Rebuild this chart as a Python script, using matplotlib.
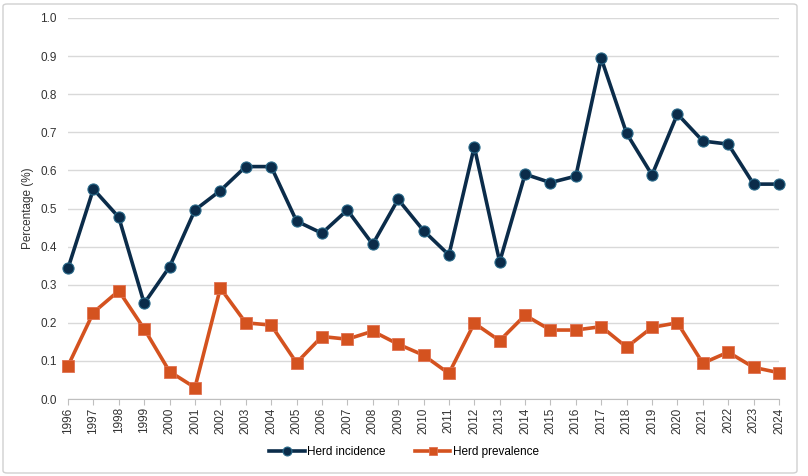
import matplotlib.pyplot as plt
from matplotlib.patches import FancyBboxPatch

plt.rcParams['font.family'] = ['Liberation Sans', 'DejaVu Sans']

years = list(range(1996, 2025))
herdIncidence = [0.343, 0.551, 0.477, 0.251, 0.347, 0.496, 0.547, 0.610, 0.610,
                 0.467, 0.435, 0.496, 0.406, 0.524, 0.442, 0.378, 0.662, 0.360,
                 0.590, 0.568, 0.585, 0.894, 0.697, 0.588, 0.748, 0.677, 0.669,
                 0.564, 0.564]
herdPrevalence = [0.087, 0.227, 0.284, 0.184, 0.072, 0.030, 0.291, 0.200, 0.194,
                  0.095, 0.164, 0.157, 0.178, 0.144, 0.115, 0.067, 0.199, 0.153,
                  0.220, 0.181, 0.181, 0.190, 0.136, 0.188, 0.200, 0.094, 0.123,
                  0.083, 0.069]
yTicks = [0.0, 0.1, 0.2, 0.3, 0.4, 0.5, 0.6, 0.7, 0.8, 0.9, 1.0]

navy = '#0b2c4a'
orange = '#d4521f'

fig = plt.figure(figsize=(8.08, 4.76), dpi=100)
ax = fig.add_axes([68/808, 77/476, 711/808, 381/476])

ax.plot(years, herdIncidence, color=navy, linewidth=2.6, marker='o', markersize=8,
        markerfacecolor=navy, markeredgecolor='#2a6a8a', markeredgewidth=0.8,
        label='Herd incidence', clip_on=False, zorder=3)
ax.plot(years, herdPrevalence, color=orange, linewidth=2.6, marker='s', markersize=8,
        markerfacecolor=orange, markeredgecolor='#e07050', markeredgewidth=0.6,
        label='Herd prevalence', clip_on=False, zorder=3)

ax.set_xlim(1996, 2024)
ax.set_ylim(0, 1.0)
ax.set_yticks(yTicks)
ax.set_yticklabels([f'{v:.1f}' for v in yTicks], fontsize=8.5, color='#333333')
ax.set_xticks(years)
ax.set_xticklabels([str(y) for y in years], rotation=90, fontsize=8.5, color='#333333')
ax.grid(axis='y', color='#d9d9d9', linewidth=1)
ax.set_axisbelow(True)
for side in ['top', 'right', 'left']:
    ax.spines[side].set_visible(False)
ax.spines['bottom'].set_color('#bfbfbf')
ax.tick_params(axis='y', length=0, pad=8)
ax.tick_params(axis='x', length=4, color='#bfbfbf', pad=2)
ax.set_ylabel('Percentage (%)', fontsize=8.5, color='#333333')
ax.yaxis.set_label_coords(-0.048, 0.5)

ax.legend(loc='center', bbox_to_anchor=(404/808, 24/476), bbox_transform=fig.transFigure,
          ncol=2, frameon=False, fontsize=8.5, handlelength=3, columnspacing=2.5,
          handletextpad=0.2, markerscale=0.8)

border = FancyBboxPatch((3/808, 3/476), 794/808, 469/476, boxstyle='round,pad=0,rounding_size=0.005',
                        transform=fig.transFigure, fill=False, edgecolor='#d0d0d0', linewidth=1)
fig.patches.append(border)

plt.savefig('out.png', dpi=100)
